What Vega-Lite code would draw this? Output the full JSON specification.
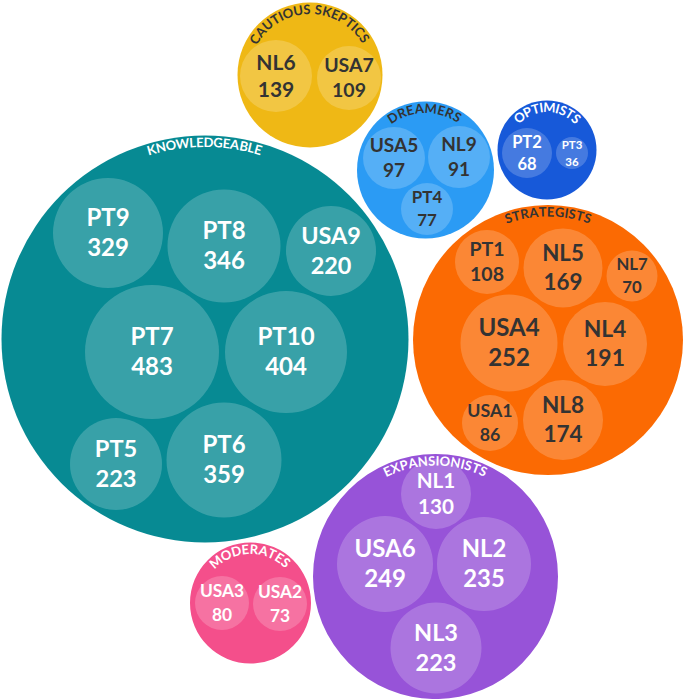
{
  "$schema": "https://vega.github.io/schema/vega-lite/v6.json",
  "width": 685,
  "height": 699,
  "padding": 0,
  "autosize": {"type": "none"},
  "background": "white",
  "config": {"view": {"stroke": null}},
  "datasets": {
    "groups": [
      {"grp": "Cautious Skeptics", "x": 310, "y": 75, "r": 72.5},
      {"grp": "Knowledgeable", "x": 205, "y": 339, "r": 203.5},
      {"grp": "Dreamers", "x": 425.5, "y": 170, "r": 68.5},
      {"grp": "Optimists", "x": 547, "y": 150, "r": 49.5},
      {"grp": "Strategists", "x": 548, "y": 340, "r": 135},
      {"grp": "Expansionists", "x": 435.5, "y": 576.5, "r": 122.5},
      {"grp": "Moderates", "x": 250.5, "y": 603, "r": 60.5}
    ],
    "members": [
      {"grp": "Cautious Skeptics", "name": "NL6", "value": 139, "x": 276, "y": 76, "r": 36},
      {"grp": "Cautious Skeptics", "name": "USA7", "value": 109, "x": 349, "y": 78, "r": 32},
      {"grp": "Knowledgeable", "name": "PT9", "value": 329, "x": 108, "y": 233, "r": 55},
      {"grp": "Knowledgeable", "name": "PT8", "value": 346, "x": 224, "y": 246, "r": 56.5},
      {"grp": "Knowledgeable", "name": "USA9", "value": 220, "x": 331, "y": 251, "r": 45},
      {"grp": "Knowledgeable", "name": "PT7", "value": 483, "x": 152, "y": 352, "r": 67},
      {"grp": "Knowledgeable", "name": "PT10", "value": 404, "x": 286, "y": 352, "r": 61},
      {"grp": "Knowledgeable", "name": "PT5", "value": 223, "x": 116, "y": 464, "r": 46},
      {"grp": "Knowledgeable", "name": "PT6", "value": 359, "x": 224, "y": 460, "r": 57.5},
      {"grp": "Dreamers", "name": "USA5", "value": 97, "x": 394, "y": 158, "r": 31},
      {"grp": "Dreamers", "name": "NL9", "value": 91, "x": 459, "y": 157, "r": 31},
      {"grp": "Dreamers", "name": "PT4", "value": 77, "x": 427, "y": 209, "r": 26},
      {"grp": "Optimists", "name": "PT2", "value": 68, "x": 527, "y": 153, "r": 25},
      {"grp": "Optimists", "name": "PT3", "value": 36, "x": 572, "y": 153, "r": 16},
      {"grp": "Strategists", "name": "PT1", "value": 108, "x": 487, "y": 262, "r": 32},
      {"grp": "Strategists", "name": "NL5", "value": 169, "x": 563, "y": 268, "r": 39.5},
      {"grp": "Strategists", "name": "NL7", "value": 70, "x": 632, "y": 276, "r": 25.5},
      {"grp": "Strategists", "name": "USA4", "value": 252, "x": 509, "y": 343, "r": 48.5},
      {"grp": "Strategists", "name": "NL4", "value": 191, "x": 605, "y": 344, "r": 42},
      {"grp": "Strategists", "name": "USA1", "value": 86, "x": 490, "y": 423, "r": 28},
      {"grp": "Strategists", "name": "NL8", "value": 174, "x": 563, "y": 420, "r": 40},
      {"grp": "Expansionists", "name": "NL1", "value": 130, "x": 436, "y": 494, "r": 35},
      {"grp": "Expansionists", "name": "USA6", "value": 249, "x": 385, "y": 564, "r": 48},
      {"grp": "Expansionists", "name": "NL2", "value": 235, "x": 484, "y": 564, "r": 47},
      {"grp": "Expansionists", "name": "NL3", "value": 223, "x": 436, "y": 648, "r": 45.5},
      {"grp": "Moderates", "name": "USA3", "value": 80, "x": 222, "y": 603, "r": 27},
      {"grp": "Moderates", "name": "USA2", "value": 73, "x": 280, "y": 604, "r": 27}
    ],
    "letters": [
      {"grp": "Cautious Skeptics", "ch": "C", "deg": -57.0},
      {"grp": "Cautious Skeptics", "ch": "A", "deg": -48.7},
      {"grp": "Cautious Skeptics", "ch": "U", "deg": -40.0},
      {"grp": "Cautious Skeptics", "ch": "T", "deg": -31.9},
      {"grp": "Cautious Skeptics", "ch": "I", "deg": -26.4},
      {"grp": "Cautious Skeptics", "ch": "O", "deg": -19.8},
      {"grp": "Cautious Skeptics", "ch": "U", "deg": -10.5},
      {"grp": "Cautious Skeptics", "ch": "S", "deg": -2.7},
      {"grp": "Cautious Skeptics", "ch": "S", "deg": 7.3},
      {"grp": "Cautious Skeptics", "ch": "K", "deg": 14.9},
      {"grp": "Cautious Skeptics", "ch": "E", "deg": 22.6},
      {"grp": "Cautious Skeptics", "ch": "P", "deg": 29.8},
      {"grp": "Cautious Skeptics", "ch": "T", "deg": 37.4},
      {"grp": "Cautious Skeptics", "ch": "I", "deg": 42.8},
      {"grp": "Cautious Skeptics", "ch": "C", "deg": 48.6},
      {"grp": "Cautious Skeptics", "ch": "S", "deg": 56.0},
      {"grp": "Knowledgeable", "ch": "K", "deg": -15.8},
      {"grp": "Knowledgeable", "ch": "N", "deg": -13.0},
      {"grp": "Knowledgeable", "ch": "O", "deg": -10.0},
      {"grp": "Knowledgeable", "ch": "W", "deg": -6.55},
      {"grp": "Knowledgeable", "ch": "L", "deg": -3.6},
      {"grp": "Knowledgeable", "ch": "E", "deg": -1.5},
      {"grp": "Knowledgeable", "ch": "D", "deg": 1.0},
      {"grp": "Knowledgeable", "ch": "G", "deg": 3.8},
      {"grp": "Knowledgeable", "ch": "E", "deg": 6.3},
      {"grp": "Knowledgeable", "ch": "A", "deg": 8.7},
      {"grp": "Knowledgeable", "ch": "B", "deg": 11.4},
      {"grp": "Knowledgeable", "ch": "L", "deg": 13.6},
      {"grp": "Knowledgeable", "ch": "E", "deg": 15.7},
      {"grp": "Dreamers", "ch": "D", "deg": -32.0},
      {"grp": "Dreamers", "ch": "R", "deg": -22.6},
      {"grp": "Dreamers", "ch": "E", "deg": -14.5},
      {"grp": "Dreamers", "ch": "A", "deg": -5.9},
      {"grp": "Dreamers", "ch": "M", "deg": 4.9},
      {"grp": "Dreamers", "ch": "E", "deg": 14.8},
      {"grp": "Dreamers", "ch": "R", "deg": 22.9},
      {"grp": "Dreamers", "ch": "S", "deg": 31.0},
      {"grp": "Optimists", "ch": "O", "deg": -40.0},
      {"grp": "Optimists", "ch": "P", "deg": -27.1},
      {"grp": "Optimists", "ch": "T", "deg": -15.8},
      {"grp": "Optimists", "ch": "I", "deg": -7.7},
      {"grp": "Optimists", "ch": "M", "deg": 3.3},
      {"grp": "Optimists", "ch": "I", "deg": 14.3},
      {"grp": "Optimists", "ch": "S", "deg": 22.0},
      {"grp": "Optimists", "ch": "T", "deg": 32.5},
      {"grp": "Optimists", "ch": "S", "deg": 43.0},
      {"grp": "Strategists", "ch": "S", "deg": -18.0},
      {"grp": "Strategists", "ch": "T", "deg": -14.45},
      {"grp": "Strategists", "ch": "R", "deg": -10.6},
      {"grp": "Strategists", "ch": "A", "deg": -6.4},
      {"grp": "Strategists", "ch": "T", "deg": -2.4},
      {"grp": "Strategists", "ch": "E", "deg": 1.2},
      {"grp": "Strategists", "ch": "G", "deg": 5.2},
      {"grp": "Strategists", "ch": "I", "deg": 8.3},
      {"grp": "Strategists", "ch": "S", "deg": 10.9},
      {"grp": "Strategists", "ch": "T", "deg": 14.45},
      {"grp": "Strategists", "ch": "S", "deg": 18.0},
      {"grp": "Expansionists", "ch": "E", "deg": -24.6},
      {"grp": "Expansionists", "ch": "X", "deg": -20.4},
      {"grp": "Expansionists", "ch": "P", "deg": -15.9},
      {"grp": "Expansionists", "ch": "A", "deg": -11.4},
      {"grp": "Expansionists", "ch": "N", "deg": -6.4},
      {"grp": "Expansionists", "ch": "S", "deg": -1.9},
      {"grp": "Expansionists", "ch": "I", "deg": 1.0},
      {"grp": "Expansionists", "ch": "O", "deg": 4.7},
      {"grp": "Expansionists", "ch": "N", "deg": 10.0},
      {"grp": "Expansionists", "ch": "I", "deg": 13.65},
      {"grp": "Expansionists", "ch": "S", "deg": 16.5},
      {"grp": "Expansionists", "ch": "T", "deg": 20.5},
      {"grp": "Expansionists", "ch": "S", "deg": 24.4},
      {"grp": "Moderates", "ch": "M", "deg": -40.0},
      {"grp": "Moderates", "ch": "O", "deg": -27.2},
      {"grp": "Moderates", "ch": "D", "deg": -15.5},
      {"grp": "Moderates", "ch": "E", "deg": -5.6},
      {"grp": "Moderates", "ch": "R", "deg": 3.6},
      {"grp": "Moderates", "ch": "A", "deg": 13.9},
      {"grp": "Moderates", "ch": "T", "deg": 23.7},
      {"grp": "Moderates", "ch": "E", "deg": 32.6},
      {"grp": "Moderates", "ch": "S", "deg": 41.0}
    ]
  },
  "encoding": {
    "x": {"field": "x", "type": "quantitative", "scale": {"domain": [0, 685], "nice": false, "zero": false}, "axis": null},
    "y": {"field": "y", "type": "quantitative", "scale": {"domain": [0, 699], "nice": false, "zero": false, "reverse": true}, "axis": null}
  },
  "layer": [
    {
      "data": {"name": "groups"},
      "mark": {"type": "circle", "opacity": 1, "strokeWidth": 0},
      "encoding": {
        "size": {"field": "r", "type": "quantitative", "scale": {"type": "pow", "exponent": 2, "domain": [0, 250], "range": [0, 250000]}, "legend": null},
        "color": {"field": "grp", "type": "nominal", "legend": null,
          "scale": {"domain": ["Cautious Skeptics", "Knowledgeable", "Dreamers", "Optimists", "Strategists", "Expansionists", "Moderates"],
                    "range": ["#EFB815", "#078A93", "#2B9BF4", "#1759D9", "#FB6A03", "#9753D8", "#F44F8B"]}}
      }
    },
    {
      "data": {"name": "members"},
      "mark": {"type": "circle", "color": "#FFFFFF", "opacity": 0.2, "strokeWidth": 0},
      "encoding": {
        "size": {"field": "r", "type": "quantitative", "scale": {"type": "pow", "exponent": 2, "domain": [0, 250], "range": [0, 250000]}, "legend": null}
      }
    },
    {
      "data": {"name": "members"},
      "mark": {"type": "text", "font": "Lato", "fontWeight": "bold", "align": "center", "baseline": "bottom", "dy": -2},
      "encoding": {
        "text": {"field": "name", "type": "nominal"},
        "size": {"field": "r", "type": "quantitative", "scale": {"type": "linear", "domain": [16, 25, 32, 40, 48, 70], "range": [11.5, 16.5, 19.5, 22.5, 24, 24]}, "legend": null},
        "color": {"field": "grp", "type": "nominal", "legend": null,
          "scale": {"domain": ["Cautious Skeptics", "Knowledgeable", "Dreamers", "Optimists", "Strategists", "Expansionists", "Moderates"],
                    "range": ["#333333", "#FFFFFF", "#333333", "#FFFFFF", "#333333", "#FFFFFF", "#FFFFFF"]}}
      }
    },
    {
      "data": {"name": "members"},
      "mark": {"type": "text", "font": "Lato", "fontWeight": "bold", "align": "center", "baseline": "top", "dy": 4},
      "encoding": {
        "text": {"field": "value", "type": "quantitative"},
        "size": {"field": "r", "type": "quantitative", "scale": {"type": "linear", "domain": [16, 25, 32, 40, 48, 70], "range": [11.5, 16.5, 19.5, 22.5, 24, 24]}, "legend": null},
        "color": {"field": "grp", "type": "nominal", "legend": null,
          "scale": {"domain": ["Cautious Skeptics", "Knowledgeable", "Dreamers", "Optimists", "Strategists", "Expansionists", "Moderates"],
                    "range": ["#333333", "#FFFFFF", "#333333", "#FFFFFF", "#333333", "#FFFFFF", "#FFFFFF"]}}
      }
    },
    {
      "data": {"name": "letters"},
      "transform": [
        {"lookup": "grp", "from": {"data": {"name": "groups"}, "key": "grp", "fields": ["x", "y", "r"]}}
      ],
      "mark": {"type": "text", "font": "Lato", "fontWeight": "bold", "fontSize": 13, "align": "center", "baseline": "middle"},
      "encoding": {
        "text": {"field": "ch", "type": "nominal"},
        "theta": {"field": "deg", "type": "quantitative", "stack": null, "scale": {"type": "linear", "zero": false, "domain": [-180, 180], "range": [-3.14159265, 3.14159265]}},
        "radius": {"field": "r", "type": "quantitative", "scale": {"type": "linear", "zero": false, "domain": [0, 300], "range": [-7.5, 292.5]}},
        "angle": {"field": "deg", "type": "quantitative", "scale": null},
        "color": {"field": "grp", "type": "nominal", "legend": null,
          "scale": {"domain": ["Cautious Skeptics", "Knowledgeable", "Dreamers", "Optimists", "Strategists", "Expansionists", "Moderates"],
                    "range": ["#333333", "#FFFFFF", "#333333", "#FFFFFF", "#333333", "#FFFFFF", "#FFFFFF"]}}
      }
    }
  ],
  "resolve": {"scale": {"size": "independent", "color": "independent"}}
}
